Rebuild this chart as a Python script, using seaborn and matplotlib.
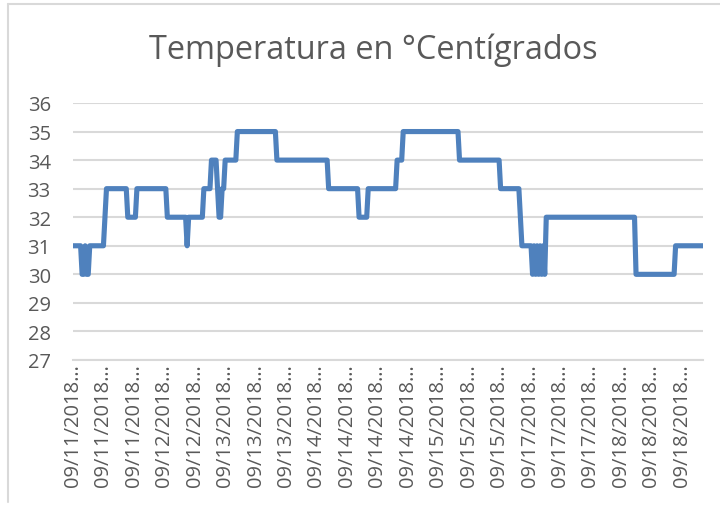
import numpy as np
import pandas as pd
import matplotlib
matplotlib.use("Agg")
import matplotlib.pyplot as plt
import seaborn as sns
from matplotlib.lines import Line2D

# temperature readings (°C), stored as runs:
# run_temps[k] is held for run_lengths[k] consecutive samples
run_temps = [31, 30, 31, 30, 31, 32, 33, 32, 33, 32, 31, 32, 33, 34, 33, 32, 33,
             34, 35, 34, 33, 32, 33, 34, 35, 34, 33, 32, 31,
             30, 31, 30, 31, 30, 31, 30, 31, 30,
             32, 30, 31]
run_lengths = [6, 2, 1, 2, 10, 1, 14, 6, 20, 13, 1, 10, 5, 4, 1, 2, 2,
               8, 26, 34, 20, 6, 19, 4, 37, 27, 13, 1, 7,
               1, 1, 1, 1, 1, 1, 1, 1, 1,
               59, 26, 19]

# category labels shown every 20 samples (truncated by Excel)
tick_dates = ["09/11", "09/11", "09/11", "09/12", "09/12", "09/13", "09/13",
              "09/13", "09/14", "09/14", "09/14", "09/14", "09/15", "09/15",
              "09/15", "09/17", "09/17", "09/17", "09/18", "09/18", "09/18"]
tick_labels = [d + "/2018\u2026" for d in tick_dates]
label_step = 20

temps = np.repeat(run_temps, run_lengths)
df = pd.DataFrame({"sample": np.arange(len(temps)), "temp": temps})

sns.set_style("white")
plt.rcParams["font.family"] = ["Open Sans", "DejaVu Sans"]

W, H = 720, 506
fig = plt.figure(figsize=(W / 100, H / 100), dpi=100)
ax = fig.add_axes([73 / W, 1 - 361 / H, 630 / W, 257 / H])

grey_text = "#595959"
grid = "#D9D9D9"

sns.lineplot(data=df, x="sample", y="temp", ax=ax, color="#4F81BD",
             linewidth=3.7, solid_joinstyle="round", solid_capstyle="round")

ax.set_xlim(0, len(temps) - 1)
ax.set_ylim(27, 36)
ax.set_yticks(range(27, 37))
ax.yaxis.grid(True, color=grid, linewidth=1.5)
ax.set_axisbelow(True)
for s in ["top", "right", "left"]:
    ax.spines[s].set_visible(False)
ax.spines["bottom"].set_color(grid)
ax.spines["bottom"].set_linewidth(1.5)

ax.set_xticks(range(0, label_step * len(tick_labels), label_step))
ax.set_xticklabels(tick_labels, rotation=90, fontsize=14.5, color=grey_text)
ax.tick_params(axis="x", length=0, pad=2)
ax.tick_params(axis="y", length=0, pad=16, labelsize=14.5, labelcolor=grey_text)
ax.set_xlabel("")
ax.set_ylabel("")

fig.text(373 / W, 1 - 50 / H, "Temperatura en °Centígrados", ha="center",
         va="center", fontsize=23.4, color=grey_text)

# chart border (left and top edges visible in the crop)
fig.add_artist(Line2D([8 / W, 8 / W], [1 - 5 / H, 1 - 503 / H], color=grid, linewidth=1.5))
fig.add_artist(Line2D([8 / W, 1], [1 - 5 / H, 1 - 5 / H], color=grid, linewidth=1.5))

fig.savefig("out.png", dpi=100)
